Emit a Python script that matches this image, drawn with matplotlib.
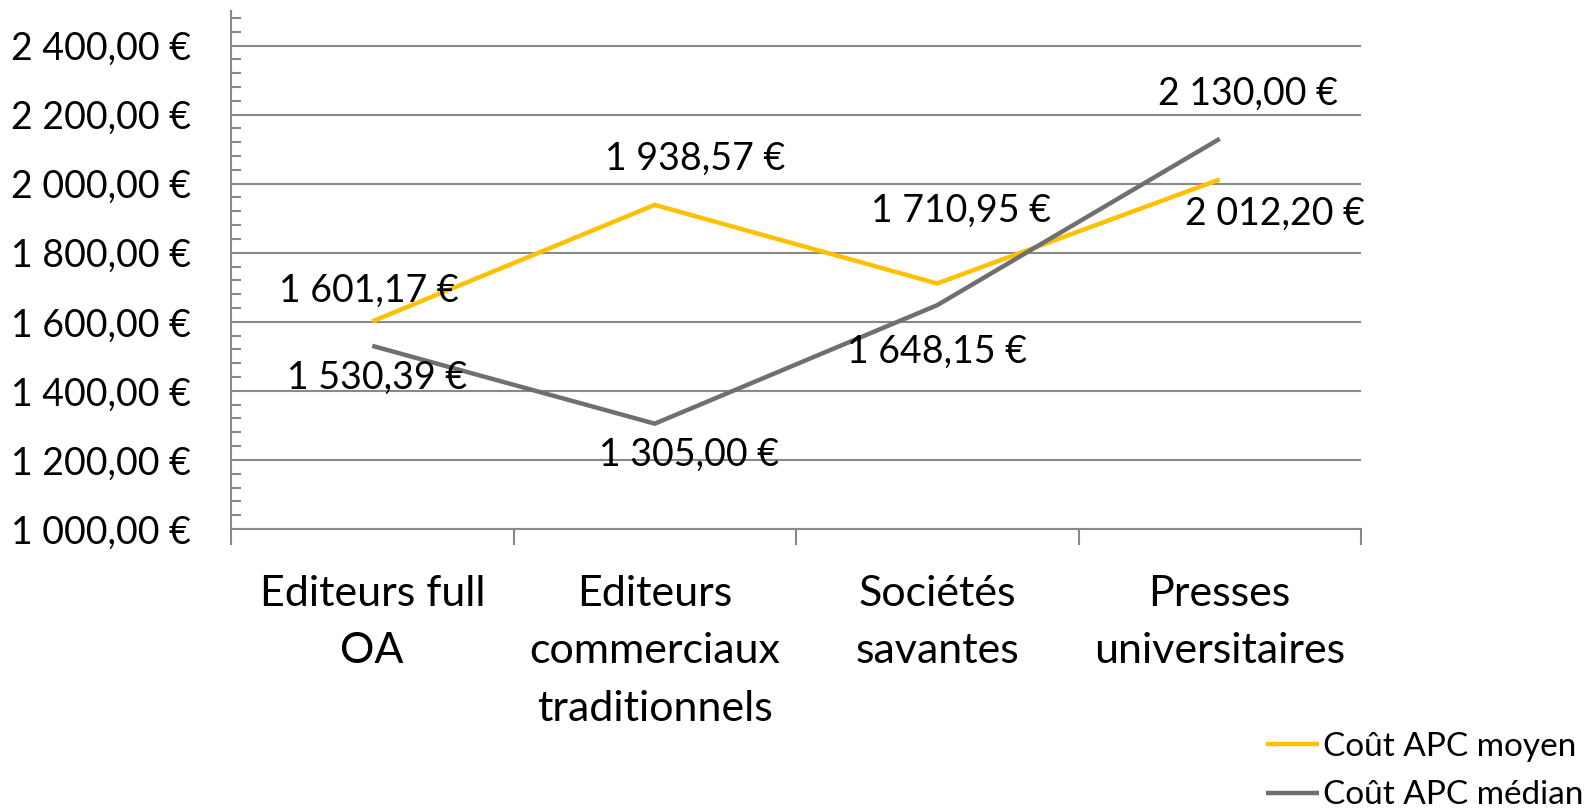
import matplotlib
matplotlib.use("Agg")
import matplotlib.pyplot as plt
from matplotlib.ticker import MultipleLocator, FixedLocator, FuncFormatter

plt.rcParams['font.family'] = ['Lato', 'DejaVu Sans']

categories = ["Editeurs full\nOA", "Editeurs\ncommerciaux\ntraditionnels",
              "Sociétés\nsavantes", "Presses\nuniversitaires"]
moyen = [1601.17, 1938.57, 1710.95, 2012.20]
median = [1530.39, 1305.00, 1648.15, 2130.00]
series_names = ["Coût APC moyen", "Coût APC médian"]

# label offsets in pixels (dx, dy) relative to points
off_moyen = [(-3, 31), (40, 46), (24, 73), (55, -34)]
off_median = [(5, -32), (34, -31), (0, -47), (28, 45)]

def fmt(v):
    s = f"{v:,.2f}"
    s = s.replace(",", " ").replace(".", ",")
    return s + " €"

W, H = 1587, 808
fig = plt.figure(figsize=(W/100, H/100), dpi=100)
ax = fig.add_axes([231/W, 1-529/H, (1361-231)/W, (529-11)/H])

x = list(range(len(categories)))
yel = "#FFC000"
gry = "#6F6F6F"
grid_c = "#898989"

l1, = ax.plot(x, moyen, color=yel, lw=3.2, solid_capstyle='butt', zorder=3)
l2, = ax.plot(x, median, color=gry, lw=3.2, solid_capstyle='butt', zorder=3)

for xi, v, (dx, dy) in zip(x, moyen, off_moyen):
    ax.annotate(fmt(v), (xi, v), xytext=(dx, dy), textcoords='offset pixels',
                ha='center', va='center', fontsize=27, color='black', zorder=4)
for xi, v, (dx, dy) in zip(x, median, off_median):
    ax.annotate(fmt(v), (xi, v), xytext=(dx, dy), textcoords='offset pixels',
                ha='center', va='center', fontsize=27, color='black', zorder=4)

ax.set_xlim(-0.5, len(categories) - 0.5)
ax.set_ylim(1000, 2500)
ax.yaxis.set_major_locator(FixedLocator([1000, 1200, 1400, 1600, 1800, 2000, 2200, 2400]))
ax.yaxis.set_minor_locator(MultipleLocator(40))
ax.yaxis.set_major_formatter(FuncFormatter(lambda v, p: fmt(v)))
ax.grid(axis='y', which='major', color=grid_c, lw=1.5, zorder=1)
ax.tick_params(axis='y', which='major', direction='in', length=0, pad=29, labelsize=27, colors='black')
ax.tick_params(axis='y', which='minor', direction='in', length=7, width=1.5, color=grid_c)

ax.set_xticks(x)
ax.set_xticklabels(categories, fontsize=31, linespacing=1.63)
ax.xaxis.set_minor_locator(FixedLocator([i - 0.5 for i in range(len(categories) + 1)]))
ax.tick_params(axis='x', which='major', length=0, pad=33)
ax.tick_params(axis='x', which='minor', direction='out', length=11.5, width=1.5, color=grid_c)

for s in ['top', 'right']:
    ax.spines[s].set_visible(False)
for s in ['left', 'bottom']:
    ax.spines[s].set_color(grid_c)
    ax.spines[s].set_linewidth(1.5)

fig.legend([l1, l2], series_names, loc='center left',
           bbox_to_anchor=(1266/W, 1-771/H), frameon=False, fontsize=24,
           handlelength=1.6, handletextpad=0.1, labelspacing=0.55, borderpad=0,
           borderaxespad=0)

fig.savefig("out.png", dpi=100)
